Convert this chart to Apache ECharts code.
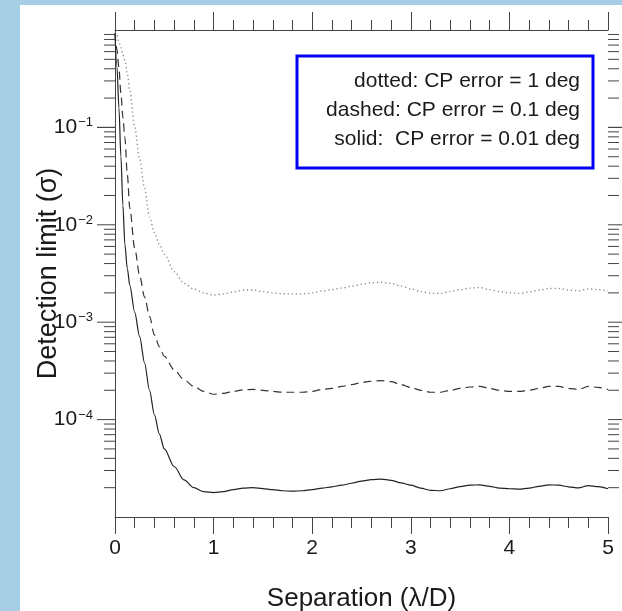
<!DOCTYPE html>
<html>
<head>
<meta charset="utf-8">
<script src="https://cdn.jsdelivr.net/npm/echarts@6/dist/echarts.min.js"></script>
<style>
  html, body { margin: 0; padding: 0; width: 622px; height: 611px; background: #a6cee4; overflow: hidden; }
  #main { position: absolute; left: 20px; top: 5px; width: 602px; height: 606px; background: #fff; }
</style>
</head>
<body>
<div id="main"></div>
<script>
// separation (lambda/D)
const xs = [0, 0.02, 0.04, 0.06, 0.08, 0.1, 0.125, 0.15, 0.2, 0.25, 0.3, 0.35, 0.4, 0.45, 0.5, 0.6, 0.7, 0.8, 0.9,
  1.0, 1.1, 1.2, 1.3, 1.4, 1.5, 1.6, 1.7, 1.8, 1.9, 2.0, 2.1, 2.2, 2.3, 2.4, 2.5, 2.6, 2.7, 2.8, 2.9,
  3.0, 3.1, 3.2, 3.3, 3.4, 3.5, 3.6, 3.7, 3.8, 3.9, 4.0, 4.1, 4.2, 4.3, 4.4, 4.5, 4.6, 4.7, 4.8, 4.9, 5.0];

// CP error = 0.01 deg
const solid = [0.89, 0.417, 0.158, 0.05, 0.0158, 6.3e-3, 3.55e-3, 2.4e-3, 1.26e-3, 7.1e-4, 3.8e-4, 2.0e-4, 1.12e-4, 7.1e-5, 5.0e-5, 3.3e-5, 2.4e-5, 2.0e-5, 1.82e-5,
  1.78e-5, 1.82e-5, 1.91e-5, 1.98e-5, 2.0e-5, 1.96e-5, 1.91e-5, 1.86e-5, 1.84e-5, 1.86e-5, 1.91e-5, 1.98e-5, 2.04e-5, 2.12e-5, 2.22e-5, 2.34e-5, 2.42e-5, 2.45e-5, 2.38e-5, 2.24e-5,
  2.12e-5, 1.98e-5, 1.88e-5, 1.86e-5, 1.95e-5, 2.05e-5, 2.12e-5, 2.14e-5, 2.06e-5, 1.98e-5, 1.95e-5, 1.93e-5, 1.98e-5, 2.06e-5, 2.14e-5, 2.12e-5, 2.04e-5, 1.99e-5, 2.1e-5, 2.05e-5, 1.95e-5];

// CP error = 0.1 deg
const dashed = [0.93, 0.63, 0.40, 0.224, 0.126, 0.079, 0.033, 0.0148, 5.75e-3, 3.0e-3, 1.82e-3, 1.15e-3, 7.4e-4, 5.6e-4, 4.47e-4, 3.24e-4, 2.57e-4, 2.19e-4, 1.95e-4,
  1.82e-4, 1.86e-4, 1.95e-4, 2.02e-4, 2.04e-4, 2.0e-4, 1.95e-4, 1.91e-4, 1.91e-4, 1.91e-4, 1.95e-4, 2.04e-4, 2.09e-4, 2.19e-4, 2.29e-4, 2.40e-4, 2.48e-4, 2.51e-4, 2.45e-4, 2.29e-4,
  2.14e-4, 2.0e-4, 1.91e-4, 1.91e-4, 2.0e-4, 2.09e-4, 2.16e-4, 2.19e-4, 2.09e-4, 2.0e-4, 1.95e-4, 1.95e-4, 2.0e-4, 2.09e-4, 2.19e-4, 2.19e-4, 2.09e-4, 2.04e-4, 2.19e-4, 2.14e-4, 2.04e-4];

// CP error = 1 deg
const dotted = [0.95, 0.89, 0.76, 0.66, 0.56, 0.49, 0.355, 0.24, 0.1, 0.047, 0.024, 0.012, 8.3e-3, 6.3e-3, 5.0e-3, 3.3e-3, 2.5e-3, 2.19e-3, 2.0e-3,
  1.90e-3, 1.95e-3, 2.04e-3, 2.14e-3, 2.14e-3, 2.06e-3, 2.0e-3, 1.96e-3, 1.95e-3, 1.95e-3, 2.0e-3, 2.09e-3, 2.16e-3, 2.24e-3, 2.34e-3, 2.45e-3, 2.54e-3, 2.57e-3, 2.5e-3, 2.36e-3,
  2.2e-3, 2.06e-3, 1.98e-3, 1.98e-3, 2.06e-3, 2.16e-3, 2.24e-3, 2.27e-3, 2.16e-3, 2.06e-3, 2.0e-3, 1.98e-3, 2.04e-3, 2.14e-3, 2.22e-3, 2.22e-3, 2.14e-3, 2.1e-3, 2.2e-3, 2.16e-3, 2.1e-3];

const yLabelValues = [1e-1, 1e-2, 1e-3, 1e-4];
const yLabelExps = ['\u22121', '\u22122', '\u22123', '\u22124'];
const legendLines = ['dotted: CP error = 1 deg', 'dashed: CP error = 0.1 deg', 'solid:  CP error = 0.01 deg'];

const font = '"Liberation Sans", Arial, Helvetica, sans-serif';
const axisColor = '#444';
const textColor = '#1a1a1a';

// log tick marks on both vertical axes: majors at decades, minors at 2..9
const yTicks = [];
for (let d = -5; d <= -1; d++) {
  for (let k = 2; k <= 9; k++) yTicks.push([0, k * Math.pow(10, d), 11]);
  if (d < -1) yTicks.push([0, Math.pow(10, d + 1), 18]);
}
yTicks.push([0, 1e-1, 18]);

function pairs(ys) {
  return xs.map(function (x, i) { return [x, ys[i]]; });
}

window.onload = function () {
  const myChart = echarts.init(document.getElementById('main'));
  const option = {
    animation: false,
    grid: { left: 95, top: 25, right: 14, bottom: 94, outerBoundsMode: 'none', containLabel: false },
    xAxis: [{
      type: 'value', min: 0, max: 5, interval: 1, position: 'bottom',
      axisLine: { lineStyle: { color: axisColor, width: 1 } },
      axisTick: { length: 17, lineStyle: { color: axisColor } },
      minorTick: { show: true, splitNumber: 5, length: 11, lineStyle: { color: axisColor } },
      splitLine: { show: false },
      axisLabel: { margin: 21, fontSize: 21, color: textColor, fontFamily: font },
      name: 'Separation (\u03bb/D)', nameLocation: 'middle', nameGap: 69, nameMoveOverlap: false,
      nameTextStyle: { fontSize: 26, color: textColor, fontFamily: font }
    }, {
      type: 'value', min: 0, max: 5, interval: 1, position: 'top',
      axisLine: { lineStyle: { color: axisColor, width: 1 } },
      axisTick: { length: 18, lineStyle: { color: axisColor } },
      minorTick: { show: true, splitNumber: 5, length: 10, lineStyle: { color: axisColor } },
      splitLine: { show: false },
      axisLabel: { show: false }
    }],
    yAxis: [{
      type: 'log', logBase: 10, min: 1e-5, max: 1, position: 'left',
      axisLine: { show: true, lineStyle: { color: axisColor, width: 1 } },
      axisTick: { show: false },
      splitLine: { show: false },
      axisLabel: {
        margin: 22,
        formatter: function (v) {
          const i = yLabelValues.findIndex(function (t) { return Math.abs(Math.log10(t) - Math.log10(v)) < 1e-6; });
          return i < 0 ? '' : '{b|10}{s|' + yLabelExps[i] + '}';
        },
        rich: {
          b: { fontSize: 21, color: textColor, fontFamily: font, lineHeight: 22 },
          s: { fontSize: 13, color: textColor, fontFamily: font, verticalAlign: 'top', lineHeight: 14, padding: [0, 0, 8, 1] }
        }
      },
      name: 'Detection limit (\u03c3)', nameLocation: 'middle', nameGap: 53, nameMoveOverlap: false,
      nameTextStyle: { fontSize: 27, color: textColor, fontFamily: font }
    }, {
      type: 'log', logBase: 10, min: 1e-5, max: 1, position: 'right',
      axisLine: { show: true, lineStyle: { color: axisColor, width: 1 } },
      axisTick: { show: false },
      splitLine: { show: false },
      axisLabel: { show: false }
    }],
    series: [{
      name: 'dotted', type: 'line', data: pairs(dotted), showSymbol: false, smooth: 0.3, smoothMonotone: 'x',
      lineStyle: { color: '#888', width: 1.3, type: [1.3, 2.8] }
    }, {
      name: 'dashed', type: 'line', data: pairs(dashed), showSymbol: false, smooth: 0.3, smoothMonotone: 'x',
      lineStyle: { color: '#333', width: 1.2, type: [8, 5] }
    }, {
      name: 'solid', type: 'line', data: pairs(solid), showSymbol: false, smooth: 0.3, smoothMonotone: 'x',
      lineStyle: { color: '#222', width: 1.2 }
    }, {
      type: 'custom', silent: true, clip: false, z: 5,
      encode: { x: 0, y: 1 },
      data: yTicks,
      renderItem: function (params, api) {
        const v = api.value(1);
        const len = api.value(2);
        const l = api.coord([0, v]);
        const r = api.coord([5, v]);
        const st = { stroke: axisColor, lineWidth: 1 };
        return {
          type: 'group',
          children: [
            { type: 'line', shape: { x1: l[0] - len, y1: l[1], x2: l[0], y2: l[1] }, style: st },
            { type: 'line', shape: { x1: r[0], y1: r[1], x2: r[0] + len, y2: r[1] }, style: st }
          ]
        };
      }
    }],
    graphic: [{
      type: 'group', x: 277, y: 51,
      children: [
        { type: 'rect', shape: { x: 0, y: 0, width: 296, height: 112 }, style: { fill: '#fff', stroke: '#0000ee', lineWidth: 3 } },
        { type: 'text', x: 283, y: 25, style: { text: legendLines[0], align: 'right', textAlign: 'right', verticalAlign: 'middle', textVerticalAlign: 'middle', fontSize: 21, fontFamily: font, fill: textColor } },
        { type: 'text', x: 283, y: 54, style: { text: legendLines[1], align: 'right', textAlign: 'right', verticalAlign: 'middle', textVerticalAlign: 'middle', fontSize: 21, fontFamily: font, fill: textColor } },
        { type: 'text', x: 283, y: 83, style: { text: legendLines[2], align: 'right', textAlign: 'right', verticalAlign: 'middle', textVerticalAlign: 'middle', fontSize: 21, fontFamily: font, fill: textColor } }
      ]
    }]
  };
  myChart.setOption(option, true);
};
</script>
</body>
</html>
